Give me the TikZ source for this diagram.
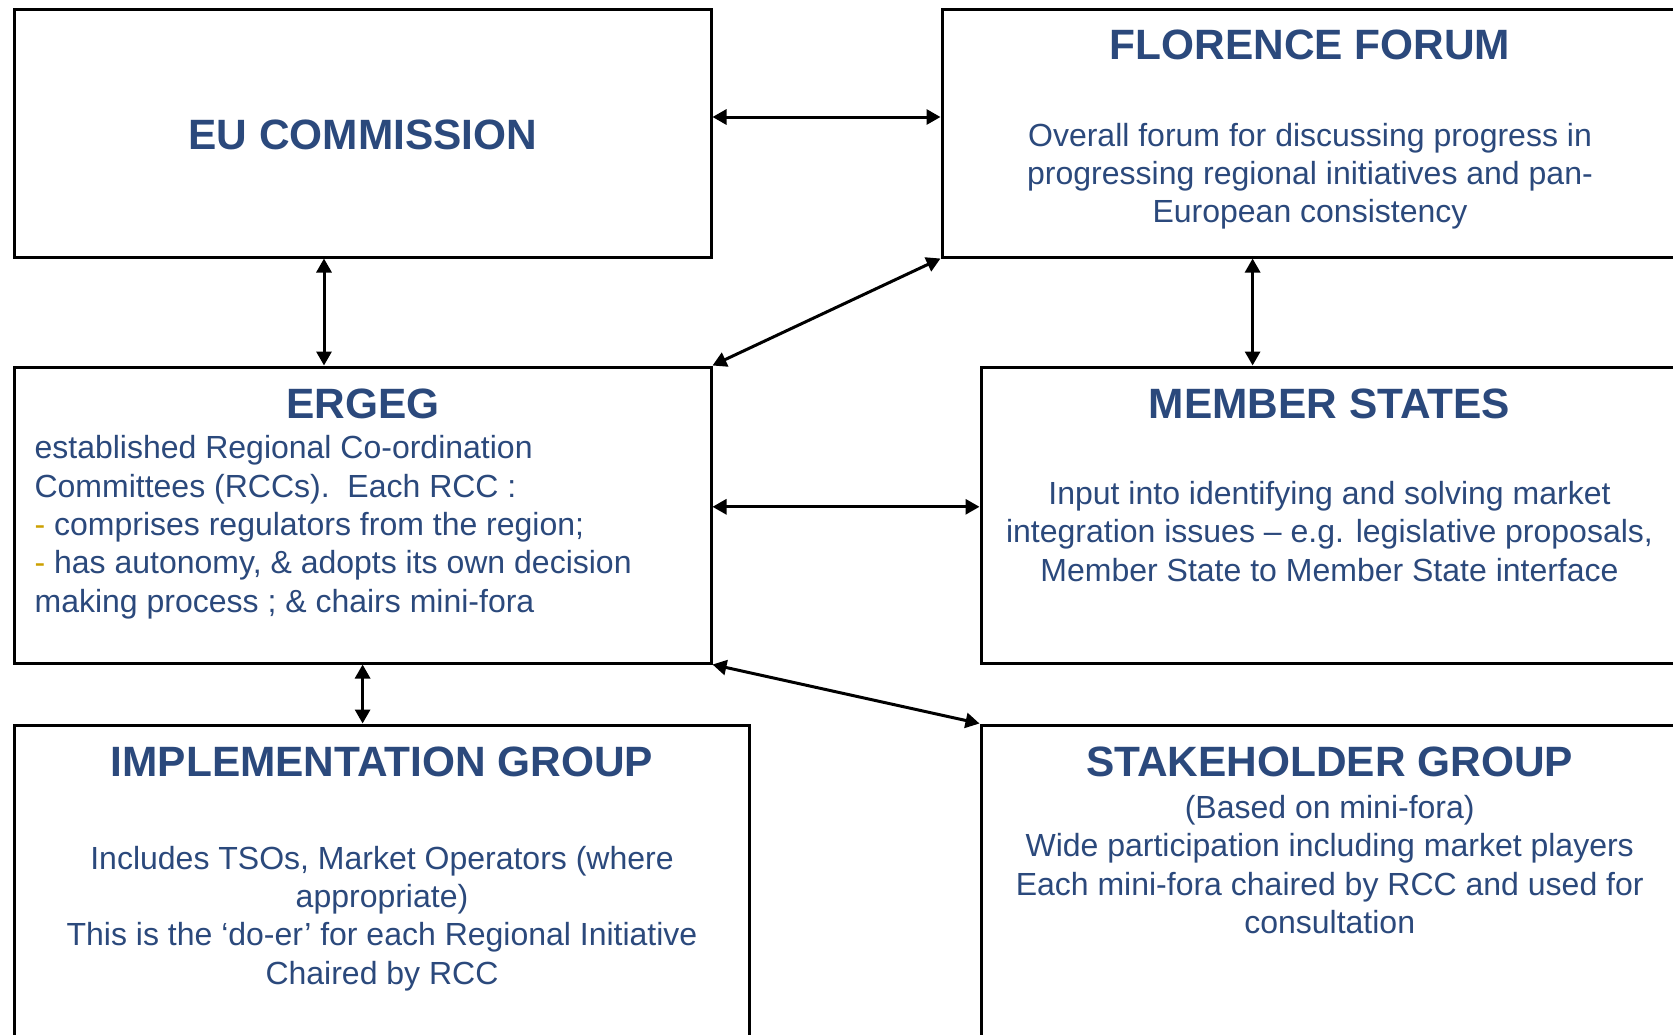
\documentclass[tikz,border=0pt]{standalone}
\usepackage{fontspec}
\setmainfont{Liberation Sans}
\usetikzlibrary{arrows.meta}
\definecolor{navy}{RGB}{43,73,124}
\definecolor{gold}{RGB}{204,160,0}
\begin{document}
\begin{tikzpicture}[x=1pt,y=-1pt,
  box/.style={draw=black, line width=3pt, fill=white, inner sep=0pt, rectangle},
  ttl/.style={font=\fontsize{42.4}{50}\selectfont\bfseries, text=navy, inner sep=0pt, anchor=base},
  body/.style={font=\fontsize{32}{38.4}\selectfont, text=navy, inner sep=0pt, anchor=base},
  arr/.style={line width=3pt, {Triangle[length=14pt,width=15pt]}-{Triangle[length=14pt,width=15pt]}}]
\useasboundingbox (0,0) rectangle (1673,1034);
\clip (0,0) rectangle (1673,1034);
\fill[white] (0,0) rectangle (1673,1034);

% boxes
\node[box, minimum width=697pt, minimum height=248pt] (eu) at (362.5,133) {};
\node[box, minimum width=758pt, minimum height=248pt] (ff) at (1321,133) {};
\node[box, minimum width=697pt, minimum height=296pt] (ergeg) at (362.5,515) {};
\node[box, minimum width=719pt, minimum height=296pt] (ms) at (1340.5,515) {};
\node[box, minimum width=735.5pt, minimum height=335pt] (impl) at (381.75,892.5) {};
\node[box, minimum width=719pt, minimum height=335pt] (sh) at (1340.5,892.5) {};

% connectors
\draw[arr] (eu.east |- 0,117) -- (ff.west |- 0,117);
\draw[arr] (eu.south -| 324,0) -- (ergeg.north -| 324,0);
\draw[arr] (ff.south -| 1252.6,0) -- (ms.north -| 1252.6,0);
\draw[arr] (ergeg.north east) -- (ff.south west);
\draw[arr] (ergeg.east |- 0,506.8) -- (ms.west |- 0,506.8);
\draw[arr] (ergeg.south -| 362.6,0) -- (impl.north -| 362.6,0);
\draw[arr] (ergeg.south east) -- (sh.north west);

% texts
\node[ttl] (eut) at (363,149) {EU COMMISSION};

\node[ttl] (fft) at (1310,59) {FLORENCE FORUM};
\node[body] (ffb) at (1310,146) {\parbox[t]{760pt}{\centering Overall forum for discussing progress in\\progressing regional initiatives and pan-\\European consistency}};

\node[ttl] (ergt) at (363,418) {ERGEG};
\node[body, anchor=base west] (ergb) at (34.4,458.7) {\parbox[t]{670pt}{\raggedright established Regional Co-ordination\\Committees (RCCs).\ \ Each RCC :\\{\color{gold}-} comprises regulators from the region;\\{\color{gold}-} has autonomy, \& adopts its own decision\\making process ; \& chairs mini-fora}};

\node[ttl] (mst) at (1329.5,418) {MEMBER STATES};
\node[body] (msb) at (1329.5,504.5) {\parbox[t]{760pt}{\centering Input into identifying and solving market\\integration issues – e.g. legislative proposals,\\Member State to Member State interface}};

\node[ttl] (impt) at (382,776.5) {IMPLEMENTATION GROUP};
\node[body] (impb) at (382,869) {\parbox[t]{760pt}{\centering Includes TSOs, Market Operators (where\\appropriate)\\This is the ‘do-er’ for each Regional Initiative\\Chaired by RCC}};

\node[ttl] (sht) at (1329.7,776.5) {STAKEHOLDER GROUP};
\node[body] (shb) at (1329.7,818.5) {\parbox[t]{760pt}{\centering (Based on mini-fora)\\Wide participation including market players\\Each mini-fora chaired by RCC and used for\\consultation}};
\end{tikzpicture}
\end{document}
